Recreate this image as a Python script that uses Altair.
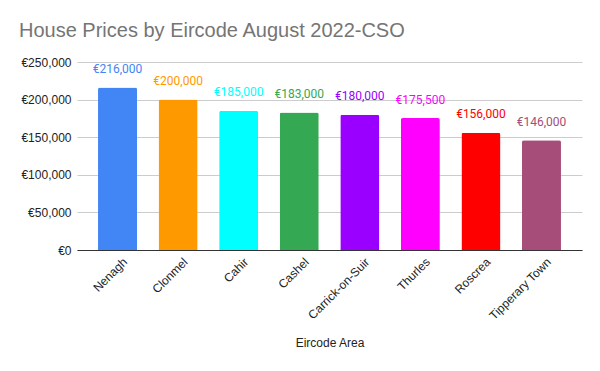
import altair as alt
import pandas as pd

areas = ["Nenagh", "Clonmel", "Cahir", "Cashel", "Carrick-on-Suir", "Thurles", "Roscrea", "Tipperary Town"]
prices = [216000, 200000, 185000, 183000, 180000, 175500, 156000, 146000]
colors = ["#4285F4", "#FF9900", "#00FFFF", "#34A853", "#9900FF", "#FF00FF", "#FF0000", "#A64D79"]
y_ticks = [0, 50000, 100000, 150000, 200000, 250000]

df = pd.DataFrame({"area": areas, "price": prices, "color": colors})

x = alt.X("area:N", sort=areas, title="Eircode Area",
          scale=alt.Scale(paddingInner=0.356, paddingOuter=0.347),
          axis=alt.Axis(labelAngle=-45, labelFont="Liberation Sans", labelFontSize=12,
                        labelColor="#222222", labelPadding=6, labelOffset=4,
                        ticks=False, domainColor="#333333",
                        titleFont="Liberation Sans", titleFontSize=12, titleFontWeight="normal",
                        titleColor="#222222", titleY=87, titleBaseline="top"))
y = alt.Y("price:Q", title=None,
          scale=alt.Scale(domain=[0, 250000], nice=False),
          axis=alt.Axis(values=y_ticks, labelOverlap=False,
                        format="$,.0f", labelFont="Liberation Sans", labelFontSize=12,
                        labelColor="#222222", labelPadding=6, ticks=False, domain=False,
                        grid=True, gridColor="#cccccc"))

base = alt.Chart(df).encode(x=x, y=y, color=alt.Color("color:N", scale=None))

bars = base.mark_bar(cornerRadiusTopLeft=2, cornerRadiusTopRight=2)
labels = base.mark_text(font="Roboto", fontSize=12, dy=-14.5, baseline="alphabetic").encode(
    text=alt.Text("price:Q", format="$,.0f"),
)

chart = alt.layer(bars, labels).properties(
    width=505, height=188,
    title=alt.TitleParams("House Prices by Eircode August 2022-CSO", anchor="start", frame="group",
                          dx=-58, font="Liberation Sans", fontSize=20, fontWeight="normal",
                          color="#757575", offset=15),
    autosize=alt.AutoSizeParams(type="none"),
    padding={"left": 69, "top": 54, "right": 10, "bottom": 113},
).configure(
    locale={"number": {"decimal": ".", "thousands": ",", "grouping": [3], "currency": ["€", ""]}}
).configure_view(stroke=None)

chart.save("out.html", embed_options={"renderer": "svg", "actions": False})
